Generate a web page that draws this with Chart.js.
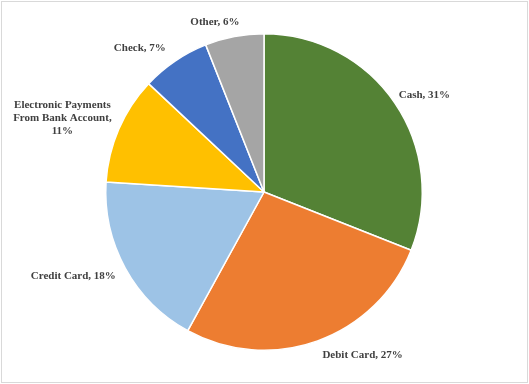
<!DOCTYPE html>
<html>
<head>
<meta charset="utf-8">
<script src="https://cdn.jsdelivr.net/npm/chart.js@4/dist/chart.umd.min.js"></script>
<style>
  html, body { margin: 0; padding: 0; background: #fff; }
  #wrap { width: 529px; height: 384px; position: relative; }
</style>
</head>
<body>
<div id="wrap"><canvas id="c" width="529" height="384"></canvas></div>
<script>
// ---- data ----
const categories = ["Cash", "Debit Card", "Credit Card", "Electronic Payments From Bank Account", "Check", "Other"];
const shares = [31, 27, 18, 11, 7, 6];
// label line breaks (text only)
const labelLines = [
  ["Cash, 31%"],
  ["Debit Card, 27%"],
  ["Credit Card, 18%"],
  ["Electronic Payments", "From Bank Account,", "11%"],
  ["Check, 7%"],
  ["Other, 6%"]
];
// ---- styles ----
const colors = ["#548235", "#ED7D31", "#9DC3E6", "#FFC000", "#4472C4", "#A5A5A5"];
const labelNudge = [[0, 1], [28, -1], [-6, 0], [-2, 1], [-15, 1], [-13, 2]];

const labelPlugin = {
  id: 'outLabels',
  afterDatasetsDraw(chart) {
    const ctx = chart.ctx;
    const meta = chart.getDatasetMeta(0);
    ctx.save();
    ctx.font = 'bold 11px "Liberation Serif", "Times New Roman", serif';
    ctx.fillStyle = '#404040';
    ctx.textAlign = 'center';
    ctx.textBaseline = 'middle';
    const lh = 13;
    meta.data.forEach((arc, i) => {
      const p = arc.getProps(['x', 'y', 'startAngle', 'endAngle', 'outerRadius'], true);
      const mid = (p.startAngle + p.endAngle) / 2;
      const r = p.outerRadius + 10;
      const ax = p.x + Math.cos(mid) * r;
      const ay = p.y + Math.sin(mid) * r;
      const lines = labelLines[i];
      let w = 0;
      lines.forEach(l => { w = Math.max(w, ctx.measureText(l).width); });
      const h = lines.length * lh;
      const cx = ax + Math.cos(mid) * w / 2 + labelNudge[i][0];
      const cy = ay + Math.sin(mid) * h / 2 + labelNudge[i][1];
      lines.forEach((l, k) => {
        ctx.fillText(l, cx, cy - h / 2 + lh / 2 + k * lh);
      });
    });
    ctx.restore();
  },
  afterDraw(chart) {
    const ctx = chart.ctx;
    ctx.save();
    ctx.strokeStyle = '#d9d9d9';
    ctx.lineWidth = 1;
    ctx.strokeRect(1.5, 1.5, 526, 381);
    ctx.restore();
  }
};

new Chart(document.getElementById('c'), {
  type: 'pie',
  data: {
    labels: categories,
    datasets: [{
      data: shares,
      backgroundColor: colors,
      borderColor: '#ffffff',
      borderWidth: 1.5
    }]
  },
  options: {
    responsive: false,
    animation: false,
    layout: { padding: { top: 33, bottom: 33, left: 105, right: 106 } },
    plugins: {
      legend: { display: false },
      tooltip: { enabled: false }
    }
  },
  plugins: [labelPlugin]
});
</script>
</body>
</html>
